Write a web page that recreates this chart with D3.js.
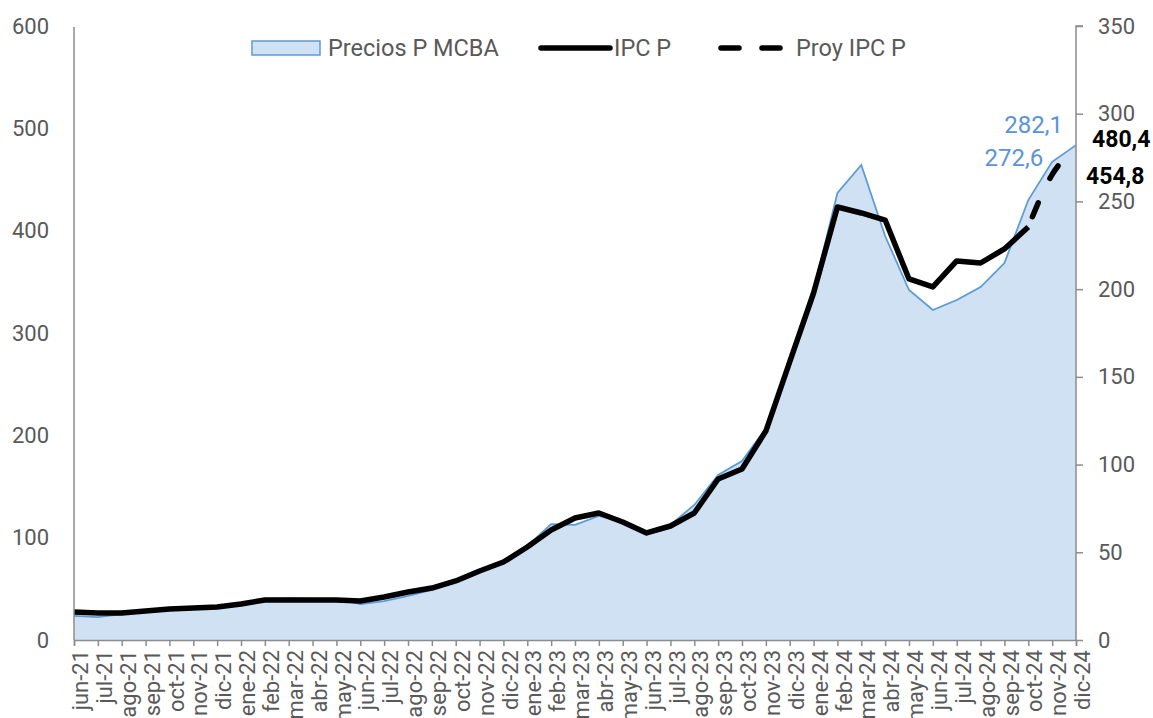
<!DOCTYPE html>
<html>
<head>
<meta charset="utf-8">
<script src="https://cdn.jsdelivr.net/npm/d3@7"></script>
<style>
  body { margin: 0; background: #fff; }
  text { font-family: Roboto, "Liberation Sans", sans-serif; }
</style>
</head>
<body>
<div id="chart"></div>
<script>
var months = ["jun-21","jul-21","ago-21","sep-21","oct-21","nov-21","dic-21",
  "ene-22","feb-22","mar-22","abr-22","may-22","jun-22","jul-22","ago-22","sep-22","oct-22","nov-22","dic-22",
  "ene-23","feb-23","mar-23","abr-23","may-23","jun-23","jul-23","ago-23","sep-23","oct-23","nov-23","dic-23",
  "ene-24","feb-24","mar-24","abr-24","may-24","jun-24","jul-24","ago-24","sep-24","oct-24","nov-24","dic-24"];

// Precios P MCBA (eje derecho)
var preciosMCBA = [13.7,13.1,14.8,16.0,17.7,18.8,18.8,
  21.1,23.4,23.9,23.4,23.4,20.5,22.2,25.1,28.5,33.1,39.3,45.0,
  53.6,66.1,65.6,70.7,67.3,61.6,65.6,77.0,94.1,102.0,120.8,158.5,
  199.5,254.8,270.8,230.3,199.5,188.1,193.8,201.2,214.9,250.8,272.6,282.1];

// IPC P (eje izquierdo), observado hasta oct-24
var ipcP = [27.4,26.4,26.4,28.3,30.3,31.3,32.2,
  35.2,39.1,39.1,39.1,39.1,38.1,42.0,46.9,50.8,57.7,67.4,76.2,
  90.9,107.5,119.2,124.1,115.3,104.6,111.4,124.1,157.3,167.1,204.2,271.7,
  339.1,423.1,417.3,410.4,352.8,345.0,370.4,368.4,382.1,403.6];

// Proy IPC P
var proyMonths = ["oct-24","nov-24","dic-24"];
var proyIPC = [403.6,454.8,480.4];

var leftTicks = [0,100,200,300,400,500,600];
var rightTicks = [0,50,100,150,200,250,300,350];

var width = 1153, height = 718;
var plotL = 74, plotR = 1076, plotT = 26, plotB = 640;
var grey = "#595959";

var svg = d3.select("#chart").append("svg")
  .attr("width", width)
  .attr("height", height);

var x = d3.scalePoint().domain(months).range([plotL, plotR]);
var yL = d3.scaleLinear().domain([0, 600]).range([plotB, plotT]);
var yR = d3.scaleLinear().domain([0, 350]).range([plotB, plotT]);

// area
var area = d3.area()
  .x(function (d, i) { return x(months[i]); })
  .y0(plotB)
  .y1(function (d) { return yR(d); });
var areaLine = d3.line()
  .x(function (d, i) { return x(months[i]); })
  .y(function (d) { return yR(d); });

svg.append("path")
  .datum(preciosMCBA)
  .attr("d", area)
  .attr("fill", "#cfe1f2");
svg.append("path")
  .datum(preciosMCBA)
  .attr("d", areaLine)
  .attr("fill", "none")
  .attr("stroke", "#5b9bd5")
  .attr("stroke-width", 1.75);

// lines
var ipcLine = d3.line()
  .x(function (d, i) { return x(months[i]); })
  .y(function (d) { return yL(d); });
svg.append("path")
  .datum(ipcP)
  .attr("d", ipcLine)
  .attr("fill", "none")
  .attr("stroke", "#000")
  .attr("stroke-width", 5.5)
  .attr("stroke-linejoin", "round");

var proyLine = d3.line()
  .x(function (d, i) { return x(proyMonths[i]); })
  .y(function (d) { return yL(d); })
  .curve(d3.curveMonotoneX);
svg.append("path")
  .datum(proyIPC)
  .attr("d", proyLine)
  .attr("fill", "none")
  .attr("stroke", "#000")
  .attr("stroke-width", 5.5)
  .attr("stroke-linecap", "round")
  .attr("stroke-dasharray", "15,27")
  .attr("stroke-dashoffset", 31);

// axes
var axisL = svg.append("g")
  .attr("transform", "translate(" + plotL + ",0)")
  .call(d3.axisLeft(yL).tickValues(leftTicks).tickSize(0).tickPadding(25));
var axisR = svg.append("g")
  .attr("transform", "translate(" + plotR + ",0)")
  .call(d3.axisRight(yR).tickValues(rightTicks).tickSize(7).tickPadding(15));
var axisB = svg.append("g")
  .attr("transform", "translate(0," + plotB + ")")
  .call(d3.axisBottom(x).tickSize(6).tickPadding(0));

[axisL, axisR, axisB].forEach(function (g) {
  g.select(".domain").attr("stroke", "#8c8c8c").attr("stroke-width", 1.5);
  g.selectAll(".tick line").attr("stroke", "#8c8c8c").attr("stroke-width", 1.5);
  g.selectAll(".tick text").attr("fill", grey).style("font-size", "22px")
    .style("font-family", "Roboto, sans-serif");
});
axisL.select(".domain").attr("d", "M0," + (plotT + 1) + "V" + plotB);
axisR.select(".domain").attr("d", "M7," + plotT + "H0V" + plotB);

axisB.selectAll(".tick text")
  .style("font-size", "22px")
  .attr("text-anchor", "end")
  .attr("dy", "0.35em")
  .attr("transform", "translate(0,10) rotate(-90)");

// data labels
var blue = "#5b93d8";
svg.append("text").attr("x", x("dic-24") - 13).attr("y", 125).attr("dy", "0.35em")
  .attr("text-anchor", "end").attr("fill", blue).style("font-size", "24px")
  .text("282,1");
svg.append("text").attr("x", x("nov-24") - 9).attr("y", 158).attr("dy", "0.35em")
  .attr("text-anchor", "end").attr("fill", blue).style("font-size", "24px")
  .text("272,6");
svg.append("text").attr("x", x("dic-24") + 16).attr("y", 139).attr("dy", "0.35em")
  .attr("fill", "#000").style("font-size", "23px").style("font-weight", "bold")
  .text("480,4");
svg.append("text").attr("x", x("dic-24") + 10).attr("y", 176).attr("dy", "0.35em")
  .attr("fill", "#000").style("font-size", "23px").style("font-weight", "bold")
  .text("454,8");

// legend
var lg = svg.append("g");
lg.append("rect").attr("x", 252).attr("y", 41).attr("width", 68).attr("height", 14)
  .attr("fill", "#cfe1f2").attr("stroke", "#5b9bd5").attr("stroke-width", 1.5);
lg.append("text").attr("x", 328).attr("y", 48).attr("dy", "0.35em")
  .attr("fill", grey).style("font-size", "23.5px").text("Precios P MCBA");
lg.append("line").attr("x1", 541).attr("x2", 610).attr("y1", 48).attr("y2", 48)
  .attr("stroke", "#000").attr("stroke-width", 5.5).attr("stroke-linecap", "round");
lg.append("text").attr("x", 614).attr("y", 48).attr("dy", "0.35em")
  .attr("fill", grey).style("font-size", "23.5px").text("IPC P");
lg.append("line").attr("x1", 721).attr("x2", 790).attr("y1", 48).attr("y2", 48)
  .attr("stroke", "#000").attr("stroke-width", 5.5).attr("stroke-linecap", "round")
  .attr("stroke-dasharray", "18,23");
lg.append("text").attr("x", 796).attr("y", 48).attr("dy", "0.35em")
  .attr("fill", grey).style("font-size", "23.5px").text("Proy IPC P");
</script>
</body>
</html>
